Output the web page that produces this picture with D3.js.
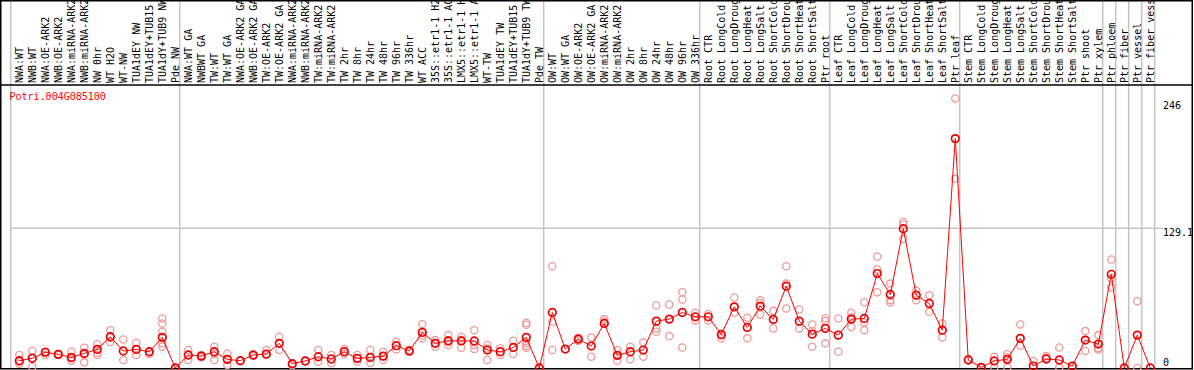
<!DOCTYPE html>
<html>
<head>
<meta charset="utf-8">
<script src="https://cdn.jsdelivr.net/npm/d3@7.9.0/dist/d3.min.js"></script>
<style>
  body { margin: 0; background: #fff; }
  svg { display: block; font-family: "DejaVu Sans Mono", monospace; font-size: 10px; }
</style>
</head>
<body>
<svg id="chart" width="1194" height="370"></svg>
<script>
// sample labels, as printed (cut to 14 chars like the original)
const samples = [
  "NWA:WT", "NWB:WT", "NWA:OE-ARK2", "NWB:OE-ARK2", "NWA:miRNA-ARK2", "NWB:miRNA-ARK2",
  "NW 0hr", "WT H2O", "WT-NW", "TUA1dEY NW", "TUA1dEY+TUB15", "TUA1dY+TUB9 NW", "Pde NW",
  "NWA:WT GA", "NWBWT GA", "TW:WT", "TW:WT GA", "NWA:OE-ARK2 GA", "NWB:OE-ARK2 GA",
  "TW:OE-ARK2", "TW:OE-ARK2 GA", "NWA:miRNA-ARK2", "NWB:miRNA-ARK2", "TW:miRNA-ARK2",
  "TW:miRNA-ARK2", "TW 2hr", "TW 8hr", "TW 24hr", "TW 48hr", "TW 96hr", "TW 336hr",
  "WT ACC", "35S::etr1-1 H2", "35S::etr1-1 AC", "LMX5::etr1-1 H", "LMX5::etr1-1 A",
  "WT-TW", "TUA1dEY TW", "TUA1dEY+TUB15", "TUA1dY+TUB9 TW", "Pde TW",
  "OW:WT", "OW:WT GA", "OW:OE-ARK2", "OW:OE-ARK2 GA", "OW:miRNA-ARK2", "OW:miRNA-ARK2",
  "OW 2hr", "OW 8hr", "OW 24hr", "OW 48hr", "OW 96hr", "OW 336hr",
  "Root CTR", "Root LongCold", "Root LongDroug", "Root LongHeat", "Root LongSalt",
  "Root ShortCold", "Root ShortDrou", "Root ShortHeat", "Root ShortSalt", "Ptr root",
  "Leaf CTR", "Leaf LongCold", "Leaf LongDroug", "Leaf LongHeat", "Leaf LongSalt",
  "Leaf ShortCold", "Leaf ShortDrou", "Leaf ShortHeat", "Leaf ShortSalt", "Ptr leaf",
  "Stem CTR", "Stem LongCold", "Stem LongDroug", "Stem LongHeat", "Stem LongSalt",
  "Stem ShortCold", "Stem ShortDrou", "Stem ShortHeat", "Stem ShortSalt", "Ptr shoot",
  "Ptr xylem", "Ptr phloem", "Ptr fiber", "Ptr vessel", "Ptr fiber vess"
];

// how many samples sit between two grey separators
const groupSizes = [13, 28, 12, 10, 10, 11, 1, 1, 1, 1];

// mean expression per sample
const means = [
  6.7, 9, 14.5, 12.6, 9.8, 13.5, 17.2, 28.9, 15.7, 17.2, 15, 28.3, 0,
  12, 11, 15, 8, 6.7, 12, 12.9, 22.8, 4, 6.5, 10.4, 8.3, 15, 8.9, 9.8, 11, 20.6,
  15.7, 32.9, 22.8, 25.2, 25, 25, 16.6, 15, 19, 28.3, 0,
  51.3, 17.5, 26.7, 20.3, 41.2, 11.7, 15, 16.6, 43.3, 45.2, 51.3, 47.3,
  47.3, 31, 56.5, 37.5, 57.1, 44.9, 75.6, 43.3, 31.3, 36.6,
  30.4, 45.2, 45.8, 87.3, 67.9, 128.7, 67.3, 59.6, 35, 212,
  7.4, 0.6, 6.5, 8, 27.4, 1.8, 8.3, 7.4, 1.8, 25.8, 22.1,
  86.6, 0, 30.4, 0
];

// individual replicates per sample
const replicates = [
  [12, 6, 4], [16, 1.2, 9], [14.5, 12, 15], [12, 13], [15, 6.7, 9], [18.7, 5.2, 13],
  [22, 12, 14], [35, 24, 28], [26.4, 7.4], [23.3, 12, 17], [15, 13],
  [45.8, 41.2, 33.5, 22.8, 19.6], [0, 0],
  [16.6, 7.4, 12], [12, 10], [19.6, 7.4, 13], [13.5, 2.8], [6.7, 7], [12, 11],
  [16.6, 12], [28.9, 16.6], [2.5, 4], [6.5, 6], [16.6, 5.8], [12, 4.3], [17.5, 13],
  [12, 6], [16.6, 4.9], [15, 7.4], [24.2, 17.2], [16.6, 15], [40.5, 27.4, 30],
  [25.8, 19.6, 23], [30.4, 21.2, 24], [28.9, 18.7, 26], [35, 21.2, 17.5],
  [21.2, 7.4, 18], [18, 12], [25.2, 12.9], [41.8, 40, 23, 20.5, 18.7], [0],
  [94, 42.7, 16.6], [17.5], [25, 28], [28.3, 10.4], [45.2, 43], [16.6, 6.7],
  [19.6, 8], [23.7, 10.4], [57.8, 36.6, 33.5], [58.7, 29.5], [70, 63.3, 19], [51, 44],
  [50, 44], [27.4, 30], [65.2, 51], [46.4, 27.4], [62.7, 49.5, 60], [52.8, 36.6],
  [94, 78, 55], [54.1, 36.6], [40.3, 19.6, 34], [46, 43.5, 22.8],
  [45.8, 15], [51, 38, 47], [60.7, 35, 42], [103, 91, 70], [78, 62.7, 60.5],
  [134.9, 132.7, 119.5], [71.3, 62.7], [67.3, 51.9], [41.2, 28.3], [249, 174.8],
  [8], [1], [10.4, 0.6], [12.9, 0.6, 10], [40.3, 20.6], [6.5], [11, 9], [19, 0.6],
  [1], [34.1, 15.7], [30.4, 17.2, 18.5],
  [100.2, 83, 74.4], [0], [61.8, 0], [0]
];

const tickValues = [0, 129.1, 246];
const tickLabels = ["0", "129.1", "246"];
const geneName = "Potri.004G085100";

const W = 1194, H = 370;
const headerBottom = 85, plotBottom = 368;

const svg = d3.select("#chart");

const x = d3.scaleBand()
  .domain(d3.range(samples.length))
  .range([10.7, 10.7 + samples.length * 13])
  .padding(0);
const cx = i => x(i) + x.bandwidth() * 0.66;

const y = d3.scaleLinear()
  .domain([0, 246])
  .range([plotBottom, 101.8]);

// grey separators (left edge + end of every group)
let sepIdx = [0];
let acc = 0;
groupSizes.forEach(n => { acc += n; sepIdx.push(acc); });
svg.append("g").selectAll("line")
  .data(sepIdx)
  .join("line")
  .attr("x1", d => x(0) + d * x.bandwidth())
  .attr("x2", d => x(0) + d * x.bandwidth())
  .attr("y1", 0).attr("y2", plotBottom)
  .attr("stroke", "#c4c4c4").attr("stroke-width", 1.5);

// horizontal middle grid line
svg.append("line")
  .attr("x1", x(0)).attr("x2", 1163)
  .attr("y1", y(129.1)).attr("y2", y(129.1))
  .attr("stroke", "#c4c4c4").attr("stroke-width", 1.5);

// frame
svg.append("rect")
  .attr("x", 0.75).attr("y", 0.75)
  .attr("width", 1191.5).attr("height", plotBottom)
  .attr("fill", "none").attr("stroke", "#000").attr("stroke-width", 1.5);
svg.append("line")
  .attr("x1", 0).attr("x2", 1192.5)
  .attr("y1", headerBottom).attr("y2", headerBottom)
  .attr("stroke", "#000").attr("stroke-width", 1.5);

// sample labels, rotated
svg.append("g").selectAll("text")
  .data(samples)
  .join("text")
  .attr("transform", (d, i) => `translate(${cx(i)},${headerBottom - 2}) rotate(-90)`)
  .attr("dy", "0.35em")
  .attr("fill", "#000")
  .text(d => d);

// gene name
svg.append("text")
  .attr("x", 9.5).attr("y", 99.5)
  .attr("fill", "#ff0000")
  .text(geneName);

// y labels on the right
svg.append("g").selectAll("text")
  .data(tickValues)
  .join("text")
  .attr("x", 1163)
  .attr("y", (d, i) => i === 0 ? y(d) - 2.5 : y(d) + 7.5)
  .attr("fill", "#000")
  .text((d, i) => tickLabels[i]);

const plot = svg.append("g");

// replicates
const repPts = [];
replicates.forEach((arr, i) => arr.forEach(v => repPts.push({ i, v })));
plot.append("g").selectAll("circle")
  .data(repPts)
  .join("circle")
  .attr("cx", d => cx(d.i))
  .attr("cy", d => y(d.v))
  .attr("r", 3.6)
  .attr("fill", "none")
  .attr("stroke", "#ef9a9a")
  .attr("stroke-width", 1.3);

// mean line
const line = d3.line()
  .x((d, i) => cx(i))
  .y(d => y(d));
plot.append("path")
  .datum(means)
  .attr("d", line)
  .attr("fill", "none")
  .attr("stroke", "#ff0000")
  .attr("stroke-width", 1);

// mean markers
plot.append("g").selectAll("circle")
  .data(means)
  .join("circle")
  .attr("cx", (d, i) => cx(i))
  .attr("cy", d => y(d))
  .attr("r", 3.8)
  .attr("fill", "none")
  .attr("stroke", "#ee0000")
  .attr("stroke-width", 1.7);
</script>
</body>
</html>
